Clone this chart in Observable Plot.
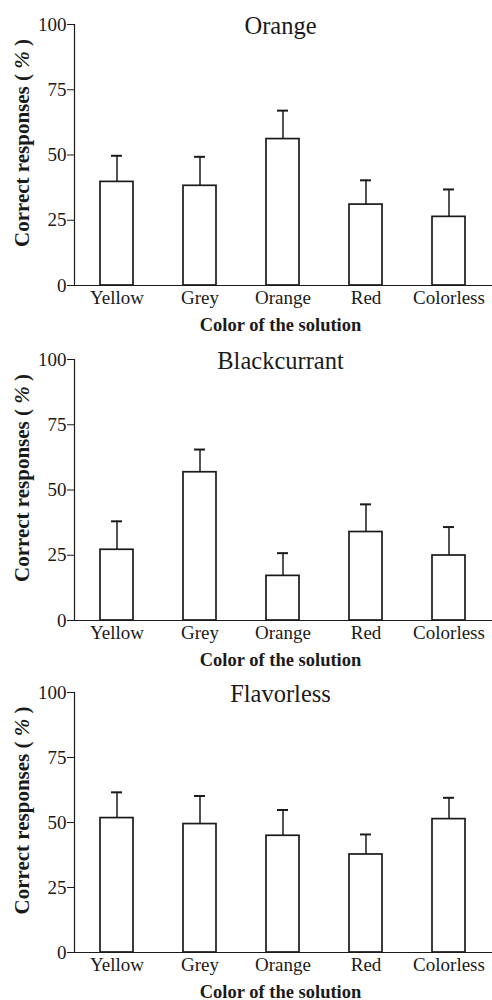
<!DOCTYPE html>
<html>
<head>
<meta charset="utf-8">
<script src="https://cdn.jsdelivr.net/npm/d3@7"></script>
<script src="https://cdn.jsdelivr.net/npm/@observablehq/plot@0.6"></script>
<style>
  html, body { margin: 0; padding: 0; background: white; }
  #chart { width: 492px; }
  #chart svg { display: block; }
</style>
</head>
<body>
<div id="chart"></div>
<script>
// ---- Data ----
const categories = ["Yellow", "Grey", "Orange", "Red", "Colorless"];
const panelTitles = ["Orange", "Blackcurrant", "Flavorless"];
const orangeMeans = [39.7, 38.2, 56.1, 31.0, 26.3];
const orangeErrors = [10.0, 11.1, 10.9, 9.3, 10.5];
const blackcurrantMeans = [27.1, 56.8, 17.1, 33.9, 24.9];
const blackcurrantErrors = [10.9, 8.7, 8.7, 10.6, 10.9];
const flavorlessMeans = [51.7, 49.4, 44.9, 37.7, 51.3];
const flavorlessErrors = [9.9, 10.8, 9.9, 7.7, 8.2];
const yTicks = [0, 25, 50, 75, 100];
const yLabel = "Correct responses ( % )";
const xLabel = "Color of the solution";

const seriesMeans = [orangeMeans, blackcurrantMeans, flavorlessMeans];
const seriesErrors = [orangeErrors, blackcurrantErrors, flavorlessErrors];

const serif = "'Liberation Serif', 'Times New Roman', serif";
const ink = "#1a1a1a";

const layouts = [
  {height: 335, plotH: 261},
  {height: 333, plotH: 261},
  {height: 332, plotH: 260}
];

const container = document.getElementById("chart");

panelTitles.forEach((title, i) => {
  const rows = categories.map((c, j) => ({cat: c, mean: seriesMeans[i][j], se: seriesErrors[i][j]}));
  const L = layouts[i];
  const marginTop = 24;
  const marginBottom = L.height - marginTop - L.plotH;
  const chart = Plot.plot({
    width: 492,
    height: L.height,
    marginTop,
    marginBottom,
    marginLeft: 74,
    marginRight: 0,
    style: {fontFamily: serif, fontSize: "19px", color: ink, background: "white"},
    x: {domain: categories, paddingInner: 0.6, paddingOuter: 0.3},
    y: {domain: [0, 100]},
    marks: [
      Plot.ruleX(rows, {x: "cat", y1: "mean", y2: d => d.mean + d.se, stroke: ink, strokeWidth: 1.5}),
      Plot.tickY(rows, {x: "cat", y: d => d.mean + d.se, insetLeft: 11, insetRight: 11, stroke: ink, strokeWidth: 2}),
      Plot.barY(rows, {x: "cat", y: "mean", fill: "white", stroke: ink, strokeWidth: 1.7}),
      Plot.frame({anchor: "left", stroke: ink, strokeWidth: 1.2}),
      Plot.ruleY([0], {stroke: ink, strokeWidth: 1.2}),
      Plot.axisY({ticks: yTicks, tickSize: 7, tickPadding: 1, tickFormat: d => String(d), label: null, fontSize: 19}),
      Plot.axisX({tickSize: 0, tickPadding: 5, label: null, fontSize: 19}),
      Plot.text([title], {text: d => d, frameAnchor: "top", lineAnchor: "bottom", dy: 9, dx: -3, fontSize: 24.5}),
      Plot.text([xLabel], {text: d => d, frameAnchor: "bottom", lineAnchor: "bottom", dy: 45, dx: -3, fontSize: 18.5, fontWeight: "bold"}),
      Plot.text([yLabel], {text: d => d, frameAnchor: "left", textAnchor: "middle", lineAnchor: "middle", rotate: -90, dx: -52, dy: -12, fontSize: 21, fontWeight: "bold"})
    ]
  });
  container.appendChild(chart);
});

// make the "%" in the y label italic, keeping it as real text
d3.select(container).selectAll("text").each(function() {
  if (this.textContent === yLabel) {
    const t = d3.select(this);
    t.text(null);
    t.append("tspan").text("Correct responses ( ");
    t.append("tspan").attr("font-style", "italic").text("%");
    t.append("tspan").text(" )");
  }
});
</script>
</body>
</html>
